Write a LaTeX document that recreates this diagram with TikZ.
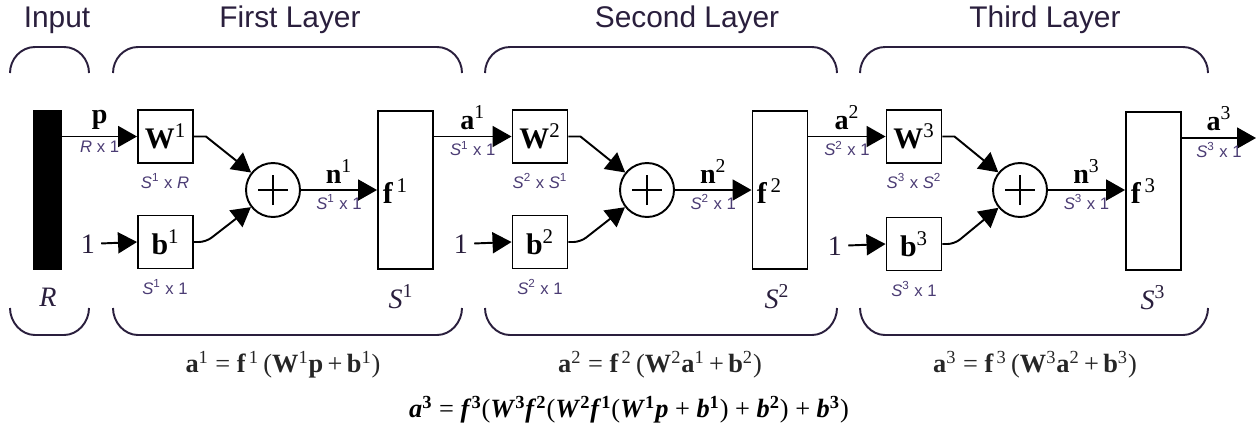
\documentclass[tikz,border=0pt]{standalone}
\usepackage{fontspec}
\setmainfont{Liberation Serif}
\setsansfont{Liberation Sans}
\usepackage{tikz}
\usetikzlibrary{positioning,arrows.meta}
\definecolor{ink}{HTML}{2A1F3D}
\definecolor{dimc}{HTML}{4B3C74}
\newcommand{\bsup}[2]{\textbf{#1}\textsuperscript{#2}}
\newcommand{\bisup}[2]{\textbf{\textit{#1}}\textsuperscript{\textbf{#2}}}

\begin{document}
\begin{tikzpicture}[x=0.02cm, y=-0.02cm,
  box/.style={draw, line width=1.1pt, minimum width=1.1cm, minimum height=1.06cm,
              inner sep=0pt, font=\fontsize{17}{17}\selectfont},
  tf/.style={draw, line width=1.1pt, minimum width=1.1cm, minimum height=3.16cm},
  sumnode/.style={draw, circle, line width=1.1pt, minimum size=1.08cm,
    path picture={\draw[line width=1.1pt]
      ([xshift=-0.3cm]path picture bounding box.center) -- ([xshift=0.3cm]path picture bounding box.center)
      ([yshift=-0.3cm]path picture bounding box.center) -- ([yshift=0.3cm]path picture bounding box.center);}},
  arr/.style={-{Triangle[length=0.38cm,width=0.42cm]}, line width=1.1pt},
  dimlbl/.style={font=\sffamily\fontsize{9.5}{10}\selectfont, text=dimc, inner sep=2pt},
  sig/.style={font=\fontsize{16}{16}\selectfont},
  brace/.style={draw=ink, line width=1.1pt},
  ttl/.style={font=\sffamily\fontsize{17}{18}\selectfont, text=ink},
  eqn/.style={font=\fontsize{15}{16}\selectfont, text=black!85}
]
  \useasboundingbox (0,0) rectangle (1256,434);

  % titles and brackets
  \node[ttl] (tin) at (57,20) {Input};
  \node[ttl] (tl1) at (290,20) {First Layer};
  \node[ttl] (tl2) at (687,20) {Second Layer};
  \node[ttl] (tl3) at (1045,20) {Third Layer};

  \draw[brace] (10,73) .. controls (10,59) and (21,47) .. (35,47) -- (64,47) .. controls (78,47) and (89,59) .. (89,73);
  \draw[brace] (10,308) .. controls (10,322) and (21,335) .. (35,335) -- (64,335) .. controls (78,335) and (89,322) .. (89,308);
  \draw[brace] (113,73) .. controls (113,59) and (124,47) .. (138,47) -- (437,47) .. controls (451,47) and (462,59) .. (462,73);
  \draw[brace] (113,308) .. controls (113,322) and (124,335) .. (138,335) -- (437,335) .. controls (451,335) and (462,322) .. (462,308);
  \draw[brace] (485,73) .. controls (485,59) and (496,47) .. (510,47) -- (812,47) .. controls (826,47) and (837,59) .. (837,73);
  \draw[brace] (485,308) .. controls (485,322) and (496,335) .. (510,335) -- (812,335) .. controls (826,335) and (837,322) .. (837,308);
  \draw[brace] (860,73) .. controls (860,59) and (871,47) .. (885,47) -- (1183,47) .. controls (1197,47) and (1208,59) .. (1208,73);
  \draw[brace] (860,308) .. controls (860,322) and (871,335) .. (885,335) -- (1183,335) .. controls (1197,335) and (1208,322) .. (1208,308);

  % input
  \node[fill=black, minimum width=0.58cm, minimum height=3.2cm, inner sep=0pt] (inbar) at (47.5,190) {};
  \node[sig, text=ink] (rlbl) at (48,297) {\textit{R}};

  % first layer
  \node[box] (W1) at (165.5,136.5) {\bsup{W}{1}};
  \node[box] (b1) at (165.5,242) {\bsup{b}{1}};
  \node[sig, text=ink] (one1) at (88,244) {1};
  \node[sumnode] (sum1) at (273,190) {};
  \node[tf] (f1) at (405.5,190) {};
  \node[box, draw=none, anchor=west, minimum width=0pt] (f1lbl) at (382,191) {\bsup{f}{\,1}};
  \node[dimlbl] (W1dim) at (165,181) {\textit{S}\textsuperscript{1} x \textit{R}};
  \node[dimlbl] (b1dim) at (165,287) {\textit{S}\textsuperscript{1} x 1};
  \node[sig, text=ink] (S1) at (401,297) {\textit{S}\textsuperscript{1}};

  \draw[arr] (inbar.east |- W1.west) -- node[above, sig] (plbl) {\textbf{p}}
    node[below, dimlbl] (pdim) {\textit{R} x 1} (W1.west);
  \draw[arr] (one1) -- (b1.west);
  \draw[arr] (W1.east) -- ++(12,0) -- (sum1);
  \draw[arr, rounded corners=4pt] (b1.east) -- ++(12,0) -- (sum1);
  \draw[arr] (sum1) -- node[above, sig] (n1lbl) {\bsup{n}{1}}
    node[below, dimlbl] (n1dim) {\textit{S}\textsuperscript{1} x 1} (sum1 -| f1.west);

  % second layer
  \node[box] (W2) at (540,136.5) {\bsup{W}{2}};
  \node[box] (b2) at (540,242) {\bsup{b}{2}};
  \node[sig, text=ink] (one2) at (461,244) {1};
  \node[sumnode] (sum2) at (647,190) {};
  \node[tf] (f2) at (780,190) {};
  \node[box, draw=none, anchor=west, minimum width=0pt] (f2lbl) at (756,191) {\bsup{f}{\,2}};
  \node[dimlbl] (W2dim) at (540,181) {\textit{S}\textsuperscript{2} x \textit{S}\textsuperscript{1}};
  \node[dimlbl] (b2dim) at (540,287) {\textit{S}\textsuperscript{2} x 1};
  \node[sig, text=ink] (S2) at (777,297) {\textit{S}\textsuperscript{2}};

  \draw[arr] (f1.east |- W2.west) -- node[above, sig] (a1lbl) {\bsup{a}{1}}
    node[below, dimlbl] (a1dim) {\textit{S}\textsuperscript{1} x 1} (W2.west);
  \draw[arr] (one2) -- (b2.west);
  \draw[arr] (W2.east) -- ++(12,0) -- (sum2);
  \draw[arr, rounded corners=4pt] (b2.east) -- ++(12,0) -- (sum2);
  \draw[arr] (sum2) -- node[above, sig] (n2lbl) {\bsup{n}{2}}
    node[below, dimlbl] (n2dim) {\textit{S}\textsuperscript{2} x 1} (sum2 -| f2.west);

  % third layer
  \node[box] (W3) at (914,136.5) {\bsup{W}{3}};
  \node[box] (b3) at (914,244) {\bsup{b}{3}};
  \node[sig, text=ink] (one3) at (835,246) {1};
  \node[sumnode] (sum3) at (1020,190) {};
  \node[tf] (f3) at (1153.5,191) {};
  \node[box, draw=none, anchor=west, minimum width=0pt] (f3lbl) at (1130,191) {\bsup{f}{\,3}};
  \node[dimlbl] (W3dim) at (914,181) {\textit{S}\textsuperscript{3} x \textit{S}\textsuperscript{2}};
  \node[dimlbl] (b3dim) at (914,289) {\textit{S}\textsuperscript{3} x 1};
  \node[sig, text=ink] (S3) at (1153,298) {\textit{S}\textsuperscript{3}};
  \coordinate (out) at (1256,138);

  \draw[arr] (f2.east |- W3.west) -- node[above, sig] (a2lbl) {\bsup{a}{2}}
    node[below, dimlbl] (a2dim) {\textit{S}\textsuperscript{2} x 1} (W3.west);
  \draw[arr] (one3) -- (b3.west);
  \draw[arr] (W3.east) -- ++(12,0) -- (sum3);
  \draw[arr, rounded corners=4pt] (b3.east) -- ++(12,0) -- (sum3);
  \draw[arr] (sum3) -- node[above, sig] (n3lbl) {\bsup{n}{3}}
    node[below, dimlbl] (n3dim) {\textit{S}\textsuperscript{3} x 1} (sum3 -| f3.west);
  \draw[arr] (f3.east |- out) -- node[above, sig] (a3lbl) {\bsup{a}{3}}
    node[below, dimlbl] (a3dim) {\textit{S}\textsuperscript{3} x 1} (out);

  % equations
  \node[eqn] (eq1) at (283,365) {\bsup{a}{1} = \bsup{f}{\,1}\,(\bsup{W}{1}\textbf{p}\,+\,\bsup{b}{1})};
  \node[eqn] (eq2) at (660,365) {\bsup{a}{2} = \bsup{f}{\,2}\,(\bsup{W}{2}\bsup{a}{1}\,+\,\bsup{b}{2})};
  \node[eqn] (eq3) at (1035,365) {\bsup{a}{3} = \bsup{f}{\,3}\,(\bsup{W}{3}\bsup{a}{2}\,+\,\bsup{b}{3})};
  \node[font=\fontsize{15}{16}\selectfont] (eqall) at (629,410)
    {\bisup{a}{3} = \bisup{f}{3}(\bisup{W}{3}\bisup{f}{2}(\bisup{W}{2}\bisup{f}{1}(\bisup{W}{1}\textbf{\textit{p}} + \bisup{b}{1}) + \bisup{b}{2}) + \bisup{b}{3})};
\end{tikzpicture}
\end{document}
